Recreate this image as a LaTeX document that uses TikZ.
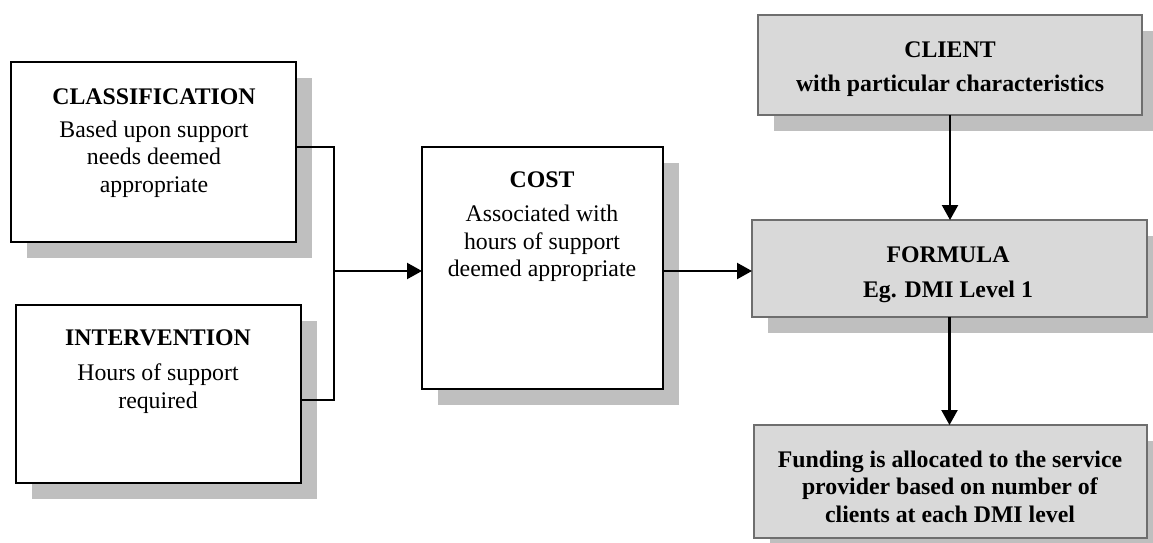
\documentclass[tikz,border=0pt]{standalone}
\usepackage{fontspec}
\setmainfont{Liberation Serif}
\usetikzlibrary{arrows.meta,shadows}
\definecolor{boxgray}{HTML}{D9D9D9}
\definecolor{shadowgray}{HTML}{BFBFBF}
\definecolor{edgegray}{HTML}{6E6E6E}
\begin{document}
\begin{tikzpicture}[x=1pt,y=-1pt,
  box/.style={rectangle, inner sep=0pt, outer sep=0pt,
    drop shadow={shadow xshift=16pt, shadow yshift=-16pt, fill=shadowgray, opacity=1}},
  whitebox/.style={box, draw=black, line width=2.1pt, fill=white},
  graybox/.style={box, draw=edgegray, line width=2.5pt, fill=boxgray},
  txt/.style={anchor=base, inner sep=0pt, font=\fontsize{23.8}{27.5}\selectfont},
  conn/.style={draw=black, line width=2.2pt},
  arr/.style={conn, -{Triangle[length=15pt,width=16pt]}}
]
\useasboundingbox (0,0) rectangle (1153,543);

% boxes
\node[whitebox, minimum width=285pt, minimum height=180pt] (class) at (153.5,152) {};
\node[whitebox, minimum width=285pt, minimum height=178pt] (interv) at (158.5,394) {};
\node[whitebox, minimum width=241pt, minimum height=242pt] (cost) at (542.5,268) {};
\node[graybox, minimum width=384pt, minimum height=100pt] (client) at (950,65) {};
\node[graybox, minimum width=395pt, minimum height=97pt] (formula) at (949.5,268.5) {};
\node[graybox, minimum width=393pt, minimum height=113pt] (funding) at (950.5,481.5) {};

% texts
\node[txt] (classT) at (154,104) {\begin{tabular}[t]{@{}c@{}}\textbf{CLASSIFICATION}\\[5.5pt] Based upon support\\ needs deemed\\ appropriate\end{tabular}};
\node[txt] (intervT) at (158,345) {\begin{tabular}[t]{@{}c@{}}\textbf{INTERVENTION}\\[8pt] Hours of support\\ required\end{tabular}};
\node[txt] (costT) at (542,187) {\begin{tabular}[t]{@{}c@{}}\textbf{COST}\\[7pt] Associated with\\ hours of support\\ deemed appropriate\end{tabular}};
\node[txt] (clientT) at (950,57) {\begin{tabular}[t]{@{}c@{}}\textbf{CLIENT}\\[7.5pt] \textbf{with particular characteristics}\end{tabular}};
\node[txt] (formulaT) at (948,262) {\begin{tabular}[t]{@{}c@{}}\textbf{FORMULA}\\[7.5pt] \textbf{Eg. DMI Level 1}\end{tabular}};
\node[txt] (fundingT) at (950,467) {\begin{tabular}[t]{@{}c@{}}\textbf{Funding is allocated to the service}\\ \textbf{provider based on number of}\\ \textbf{clients at each DMI level}\end{tabular}};

% connectors
\coordinate (j) at (334,271);
\draw[conn] ([yshift=5pt]class.east) -| (j);
\draw[conn] ([yshift=-6pt]interv.east) -| (j);
\draw[arr] (j) -- (j -| cost.west);
\draw[arr] (cost.east |- j) -- (formula.west |- j);
\draw[arr] (client.south) -- (client.south |- formula.north);
\draw[arr] (formula.south) -- (formula.south |- funding.north);
\end{tikzpicture}
\end{document}
